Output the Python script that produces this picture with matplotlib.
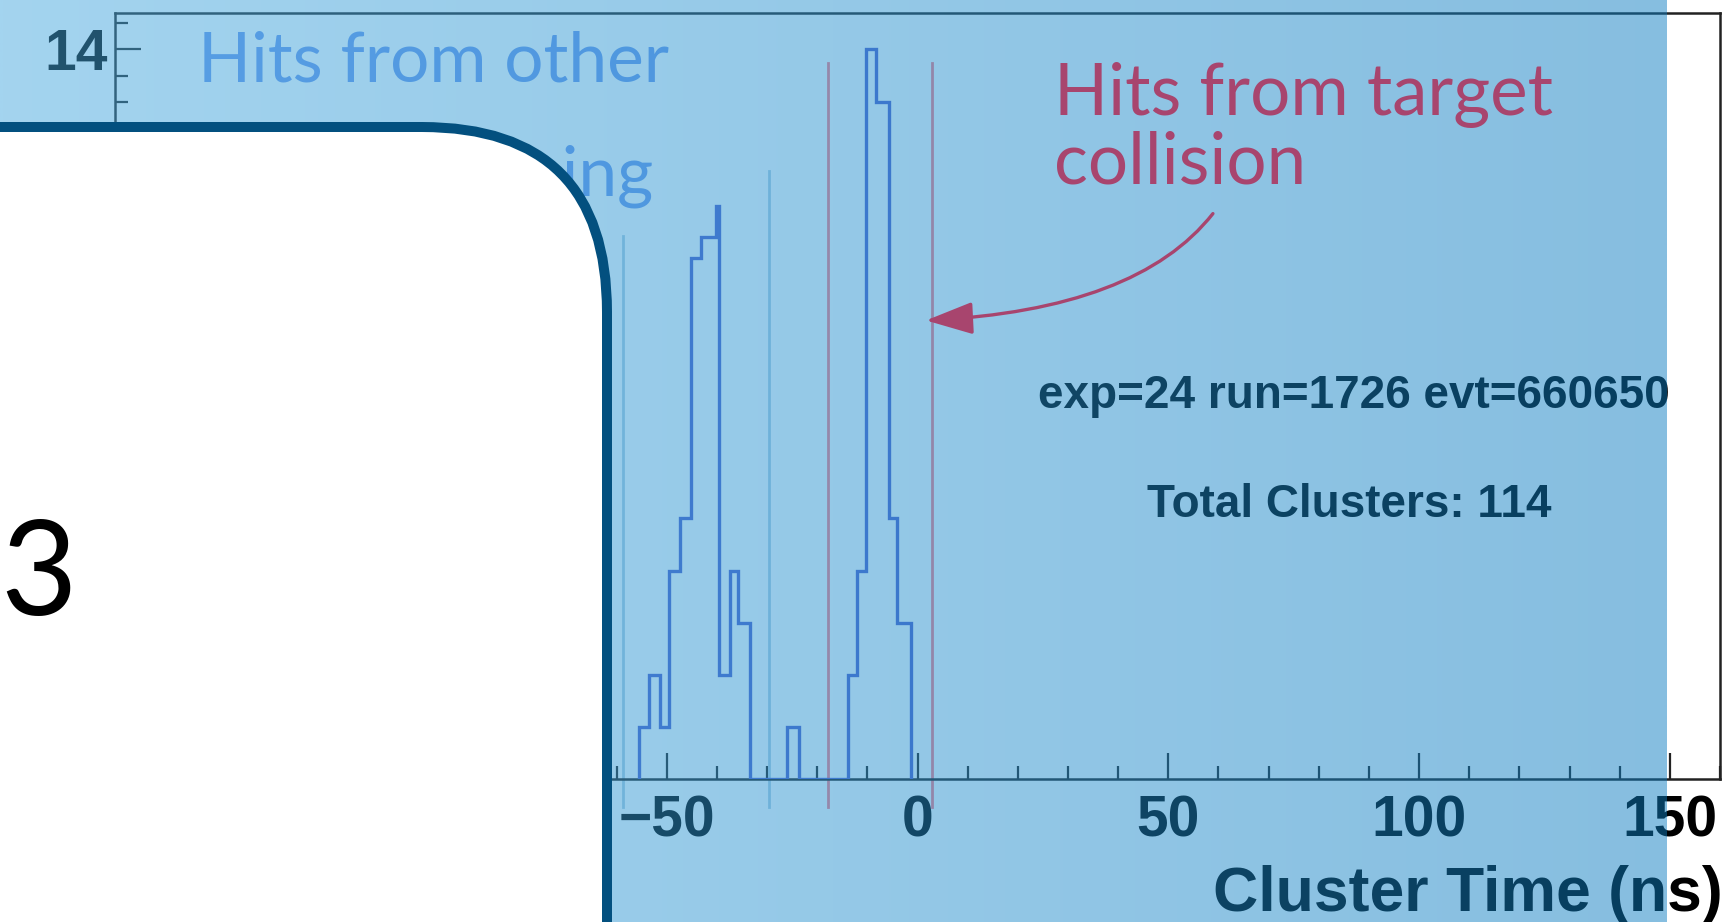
import numpy as np
import matplotlib
matplotlib.use("Agg")
import matplotlib.pyplot as plt
from matplotlib.patches import FancyBboxPatch, FancyArrowPatch
from matplotlib.path import Path
from matplotlib.ticker import MultipleLocator

# ---------------- data ----------------
bin_edges = [-55.6, -53.6, -51.4, -49.6, -47.4, -45.1, -43.1, -40.2, -39.6,
             -37.3, -35.8, -33.4, -26.0, -23.7, -13.8, -12.0, -10.2, -8.3,
             -5.7, -4.0, -1.3]
bin_counts = [1, 2, 1, 4, 5, 10, 10.4, 11, 2, 4, 3, 0, 1, 0, 2, 4, 14, 13, 5, 3]

target_window = [-17.8, 2.8]          # ns
target_window_top = 13.75
other_window = [-58.8, -29.6]         # ns
other_window_top = [10.43, 11.66]
window_bottom = -0.54

x_limits = (-160, 160)
y_limits = (0, 14.7)
x_label = "Cluster Time (ns)"
event_info = "exp=24 run=1726 evt=660650"
cluster_info = "Total Clusters: 114"
target_label = ["Hits from target", "collision"]
other_label = ["Hits from other", "bunch crossing"]
arrow_points = [(58.9, 10.85), (43.8, 9.0), (1.7, 8.8)]
card_number = "3"

# ---------------- figure ----------------
W, H, DPI = 1722, 922, 100
plt.rcParams['font.family'] = ['Liberation Sans', 'DejaVu Sans']
plt.rcParams['font.weight'] = 'bold'
plt.rcParams['axes.unicode_minus'] = True

fig = plt.figure(figsize=(W / DPI, H / DPI), dpi=DPI)
fig.patch.set_facecolor('white')


def fx(px):
    return px / W


def fy(py):
    return 1 - py / H


ax_l, ax_r, ax_t, ax_b = 115, 1720, 13, 779
ax = fig.add_axes([fx(ax_l), fy(ax_b), (ax_r - ax_l) / W, (ax_b - ax_t) / H])
ax.set_zorder(0)
ax.set_facecolor('white')
ax.set_xlim(*x_limits)
ax.set_ylim(*y_limits)

ax.stairs(bin_counts, bin_edges, baseline=0, color='#5060cc', lw=2.4, zorder=3)

for xv in target_window:
    ax.plot([xv, xv], [window_bottom, target_window_top], color='#ff7e86',
            lw=2.0, clip_on=False, zorder=2)
for xv, top_y in zip(other_window, other_window_top):
    ax.plot([xv, xv], [window_bottom, top_y], color='#b2cfe2',
            lw=2.0, clip_on=False, zorder=2)

ax.xaxis.set_major_locator(MultipleLocator(50))
ax.xaxis.set_minor_locator(MultipleLocator(10))
ax.yaxis.set_major_locator(MultipleLocator(2))
ax.yaxis.set_minor_locator(MultipleLocator(0.5))
ax.tick_params(which='both', direction='in', top=False, right=False,
               width=1.6, color='#222222', labelsize=41, labelcolor='black')
ax.tick_params(which='major', length=19)
ax.tick_params(which='minor', length=9.5)
ax.tick_params(axis='x', pad=11)
ax.tick_params(axis='y', pad=5)
for sp in ax.spines.values():
    sp.set_color('#222222')
    sp.set_linewidth(1.8)

ax.set_xlabel(x_label, fontsize=45, fontweight='bold', loc='right', color='black')
ax.xaxis.set_label_coords(1.0015, -(865 - ax_b) / (ax_b - ax_t))

# annotation texts (under the tint)
fig.text(fx(198), fy(82), other_label[0], family='Lato', weight='normal',
         fontsize=50, color='#6e98ec', ha='left', va='baseline', zorder=3)
fig.text(fx(198), fy(196), other_label[1], family='Lato', weight='normal',
         fontsize=50, color='#6e98ec', ha='left', va='baseline', zorder=3)
fig.text(fx(1038), fy(408), event_info, fontsize=33, fontweight='bold',
         color='black', ha='left', va='baseline', zorder=3)
fig.text(fx(1147), fy(517), cluster_info, fontsize=33, fontweight='bold',
         color='black', ha='left', va='baseline', zorder=3)

# ---------------- blue tint overlay ----------------
ov = fig.add_axes([0, 0, 1667 / W, 1])
ov.set_axis_off()
ov.set_zorder(5)
t = np.linspace(0, 1, 256)
c_left = np.array([71, 169, 223]) / 255
c_right = np.array([13, 125, 193]) / 255
grad = np.zeros((2, 256, 4))
grad[:, :, :3] = (c_left[None, :] * (1 - t[:, None]) + c_right[None, :] * t[:, None])[None, :, :]
grad[:, :, 3] = 0.5
ov.imshow(grad, aspect='auto', extent=[0, 1, 0, 1], interpolation='bilinear')
ov.set_xlim(0, 1)
ov.set_ylim(0, 1)

# mauve annotation drawn over the tint
mauve = '#a8456e'
arrow = FancyArrowPatch(path=Path(arrow_points, [Path.MOVETO, Path.CURVE3, Path.CURVE3]),
                        arrowstyle='-|>,head_length=29,head_width=10',
                        mutation_scale=1, color=mauve, lw=2.4,
                        transform=ax.transData, clip_on=False, zorder=4)
ov.add_patch(arrow)
fig.text(fx(1054), fy(115), target_label[0], family='Lato', weight='normal',
         fontsize=51, color=mauve, ha='left', va='baseline', zorder=6)
fig.text(fx(1054), fy(184), target_label[1], family='Lato', weight='normal',
         fontsize=51, color=mauve, ha='left', va='baseline', zorder=6)

# ---------------- white card on top ----------------
top = fig.add_axes([0, 0, 1, 1])
top.set_axis_off()
top.set_zorder(10)
top.set_xlim(0, W)
top.set_ylim(H, 0)
card = FancyBboxPatch((-400, 127), 607 + 400, 1400,
                      boxstyle="round,pad=0,rounding_size=185",
                      fc='white', ec='#03507f', lw=7.2)
top.add_patch(card)
top.text(39, 615, card_number, family='Lato', weight='normal', fontsize=95,
         color='black', ha='center', va='baseline')

fig.savefig('out.png', dpi=DPI, facecolor='white')
